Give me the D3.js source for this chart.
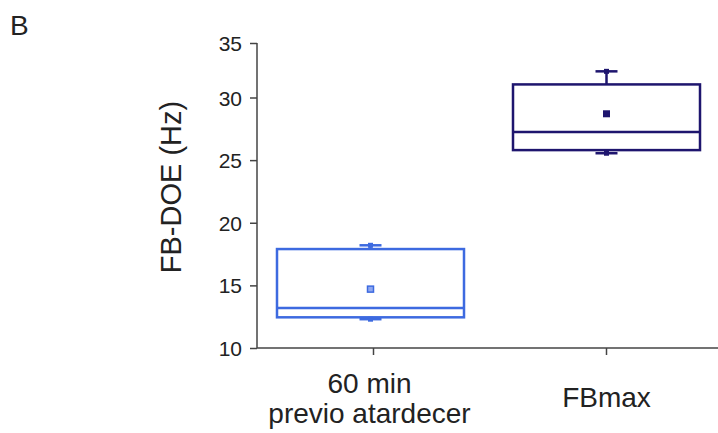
<!DOCTYPE html>
<html><head><meta charset="utf-8">
<script src="https://cdn.jsdelivr.net/npm/d3@7"></script>
<style>body{margin:0;background:#fff}svg{display:block}text{font-family:"Liberation Sans",Arial,sans-serif}</style>
</head><body><svg id="c" width="718" height="433"></svg>
<script>
const categories = [["60 min","previo atardecer"],["FBmax"]];
const whiskerLow = [12.3, 25.55];
const q1 = [12.45, 25.8];
const medians = [13.2, 27.25];
const q3 = [17.9, 31.2];
const whiskerHigh = [18.2, 32.4];
const means = [14.7, 28.7];
const colors = ["#3d6ae0", "#1e156e"];
const yTicks = [10,15,20,25,30,35];

const svg = d3.select("#c");
const y = d3.scaleLinear().domain([10,30,35]).range([348,97.5,43]);
const x = d3.scaleBand().domain([0,1]).range([257,723]).paddingInner(0).paddingOuter(0);
const bw = 187;

// axes
const yAxis = d3.axisLeft(y).tickValues(yTicks).tickSize(7).tickPadding(8);
const gy = svg.append("g").attr("transform","translate(257,0)").call(yAxis);
gy.attr("font-family",null).attr("font-size",null);
gy.select(".domain").attr("stroke","#444").attr("stroke-width",1.5).attr("d","M0,43V348");
gy.selectAll(".tick line").attr("stroke","#444").attr("stroke-width",1.5);
gy.selectAll(".tick text").style("font-size","21px").attr("fill","#222").attr("dy","0.36em");

const xAxis = d3.axisBottom(x).tickSize(7).tickFormat(()=>"");
const gx = svg.append("g").attr("transform","translate(0,348)").call(xAxis);
gx.select(".domain").attr("stroke","#444").attr("stroke-width",1.5).attr("d","M257,0H723");
gx.selectAll(".tick line").attr("stroke","#444").attr("stroke-width",1.5);

// x labels
categories.forEach((lines,i)=>{
  const cx = x(i)+x.bandwidth()/2 - (i===0?4:0);
  const t = svg.append("text").attr("text-anchor","middle").style("font-size","28px").attr("fill","#222");
  if(lines.length===2){
    t.append("tspan").attr("x",cx).attr("y",393).text(lines[0]);
    t.append("tspan").attr("x",cx).attr("y",423).text(lines[1]);
  } else {
    t.append("tspan").attr("x",cx).attr("y",407).text(lines[0]);
  }
});

// y label
svg.append("text").attr("transform","translate(181,187) rotate(-90)").attr("text-anchor","middle")
  .style("font-size","29px").attr("fill","#222").text("FB-DOE (Hz)");
svg.append("text").attr("x",10).attr("y",35).style("font-size","28px").attr("fill","#222").text("B");

// boxes
[0,1].forEach(i=>{
  const cx = x(i)+x.bandwidth()/2 - (i===0?3:0);
  const c = colors[i];
  const g = svg.append("g");
  g.append("line").attr("x1",cx).attr("x2",cx).attr("y1",y(q3[i])).attr("y2",y(whiskerHigh[i])).attr("stroke",c).attr("stroke-width",2.5);
  g.append("line").attr("x1",cx).attr("x2",cx).attr("y1",y(q1[i])).attr("y2",y(whiskerLow[i])).attr("stroke",c).attr("stroke-width",2.5);
  [whiskerHigh[i], whiskerLow[i]].forEach(v=>{
    g.append("line").attr("x1",cx-11).attr("x2",cx+11).attr("y1",y(v)).attr("y2",y(v)).attr("stroke",c).attr("stroke-width",2.5);
    g.append("rect").attr("x",cx-2.5).attr("y",y(v)-2.5).attr("width",5).attr("height",5).attr("fill",c);
  });
  g.append("rect").attr("x",cx-bw/2).attr("y",y(q3[i])).attr("width",bw).attr("height",y(q1[i])-y(q3[i]))
    .attr("fill","none").attr("stroke",c).attr("stroke-width",2.5);
  g.append("line").attr("x1",cx-bw/2).attr("x2",cx+bw/2).attr("y1",y(medians[i])).attr("y2",y(medians[i])).attr("stroke",c).attr("stroke-width",2.5);
  if(i===0){
    g.append("rect").attr("x",cx-3).attr("y",y(means[i])-3).attr("width",6).attr("height",6).attr("fill","#8fa8f0").attr("stroke",c).attr("stroke-width",1.5);
  } else {
    g.append("rect").attr("x",cx-3.5).attr("y",y(means[i])-3.5).attr("width",7).attr("height",7).attr("fill",c);
  }
});
</script></body></html>
